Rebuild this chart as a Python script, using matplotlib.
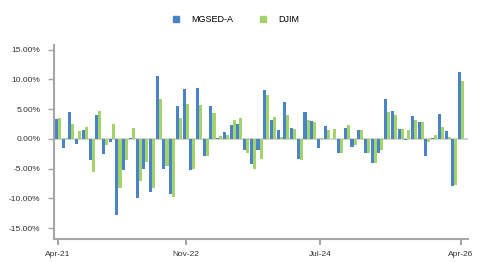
import numpy as np
import matplotlib.pyplot as plt
from matplotlib.lines import Line2D

# monthly returns (%), Apr-21 .. Apr-26
mgsed = [3.35, -1.6, 4.5, -0.8, 1.5, -3.6, 4.0, -2.6, -0.6, -12.7,
         -5.3, 0.2, -10.0, -5.0, -9.0, 10.55, -5.1, -9.2, 5.5, 8.4,
         -5.3, 8.55, -2.8, 5.5, 0.15, 1.2, 2.35, 2.5, -1.95, -4.25,
         -1.8, 8.2, 3.2, 1.5, 6.2, 1.85, -3.45, 4.5, 3.0, -1.6,
         2.2, -0.1, -2.3, 1.85, -1.3, 1.5, -2.3, -4.0, -2.45, 6.7,
         4.7, 1.7, -0.25, 3.85, 2.85, -2.95, 0.2, 4.2, 1.35, -7.95,
         11.2]
djim = [3.5, 0.2, 2.5, 1.35, 2.0, -5.5, 4.7, -0.95, 2.5, -8.2,
        -3.6, 1.85, -7.0, -3.8, -8.2, 6.7, -4.6, -9.8, 3.5, 5.85,
        -5.0, 5.7, -2.95, 4.35, 0.5, 0.7, 3.2, 3.5, -2.45, -5.1,
        -3.3, 7.4, 3.7, 0.35, 4.0, 1.7, -3.6, 3.2, 2.85, 0.2,
        1.5, 1.7, -2.45, 2.35, -0.95, 1.5, -2.45, -4.0, -1.95, 4.5,
        4.0, 1.7, 1.5, 3.2, 2.85, -0.6, 0.7, 2.0, 0.35, -7.75,
        9.7]
tick_pos = [0, 19, 39, 60]
tick_labels = ["Apr-21", "Nov-22", "Jul-24", "Apr-26"]
yticks = [-15, -10, -5, 0, 5, 10, 15]

blue = "#4a84c6"
green = "#a3d36b"
grey = "#a6a6a6"

plt.rcParams['font.family'] = ['Liberation Sans', 'DejaVu Sans']

fig = plt.figure(figsize=(4.81, 2.62), dpi=100)
ax = fig.add_axes([0.113, 0.088, 0.86, 0.74])

x = np.arange(len(mgsed))
w = 0.45
ax.axhline(0, color="#d4d4d4", lw=1.5, zorder=0)
ax.bar(x - w / 2, mgsed, width=w, color=blue, zorder=2)
ax.bar(x + w / 2, djim, width=w, color=green, zorder=2)

ax.set_xlim(-0.55, 61.05)
ax.set_ylim(-16.8, 15.75)
ax.set_yticks(yticks)
ax.set_yticklabels([f"{v:.2f}%" for v in yticks])
ax.set_xticks(tick_pos)
ax.set_xticklabels(tick_labels)

for s in ["top", "right"]:
    ax.spines[s].set_visible(False)
for s in ["left", "bottom"]:
    ax.spines[s].set_color(grey)
    ax.spines[s].set_linewidth(1.5)
ax.tick_params(axis="y", length=4, width=1, color=grey, pad=6,
               labelsize=6, labelcolor="#333333")
ax.tick_params(axis="x", length=4, width=1.5, color=grey, pad=5,
               labelsize=6, labelcolor="#333333")

handles = [Line2D([], [], marker="s", ls="", color=blue, markersize=4.5),
           Line2D([], [], marker="s", ls="", color=green, markersize=4.5)]
fig.legend(handles, ["MGSED-A", "DJIM"], loc="center", ncol=2,
           bbox_to_anchor=(0.49, 0.924), frameon=False, fontsize=6.5,
           handletextpad=1.2, columnspacing=2.8, handlelength=1)

fig.savefig("out.png", dpi=100)
